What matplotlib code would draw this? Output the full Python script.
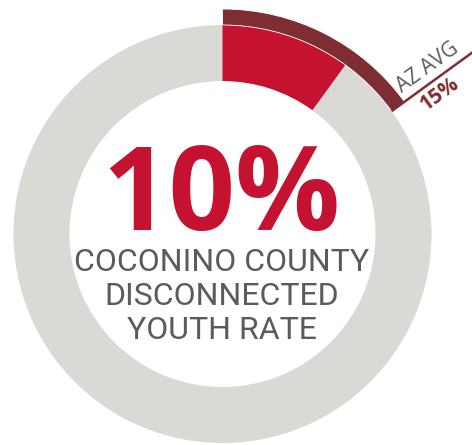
import numpy as np
import matplotlib
matplotlib.use("Agg")
import matplotlib.pyplot as plt
from matplotlib.patches import Wedge

# Data
county_label = "COCONINO COUNTY\nDISCONNECTED\nYOUTH RATE"
county_rate = 10   # percent
state_label = "AZ AVG"
state_rate = 15    # percent
full_scale = 100

RED = "#c41230"
DARK_RED = "#7e2e32"
GRAY_RING = "#d9d9d5"
TEXT_GRAY = "#5a5b5e"

W, H = 472, 445
fig = plt.figure(figsize=(W / 100, H / 100), dpi=100)
ax = fig.add_axes([0, 0, 1, 1])
ax.set_xlim(0, W)
ax.set_ylim(0, H)
ax.set_aspect("equal")
ax.axis("off")

cx, cy = 222.5, 211
r_out, r_in = 209, 153
band = 16


def sweep(value):
    return 360.0 * value / full_scale


# background ring
ax.add_patch(Wedge((cx, cy), r_out, 0, 360, width=r_out - r_in,
                   facecolor=GRAY_RING, edgecolor="none"))

# county share, clockwise from 12 o'clock
a_c = sweep(county_rate)
ax.add_patch(Wedge((cx, cy), r_out, 90 - a_c, 90, width=r_out - r_in,
                   facecolor=RED, edgecolor="none"))

# state average arc outside the ring
a_s = sweep(state_rate)
ax.add_patch(Wedge((cx, cy), r_out + band, 90 - a_s, 90, width=band,
                   facecolor=DARK_RED, edgecolor="white", linewidth=0.6))

# leader line along the end of the state arc
phi = np.deg2rad(a_s)
d = np.array([np.sin(phi), np.cos(phi)])      # outward direction
n = np.array([-np.cos(phi), np.sin(phi)])     # normal, above the line
c = np.array([cx, cy])
p0 = c + r_out * d
p1 = c + 320 * d
ax.plot([p0[0], p1[0]], [p0[1], p1[1]], color=DARK_RED, lw=1.8,
        solid_capstyle="butt")

rot = 90 - a_s
pa = c + 264 * d + 14 * n
pb = c + 258 * d - 14 * n
ax.text(pa[0], pa[1], state_label, rotation=rot, ha="center", va="center",
        rotation_mode="anchor", fontsize=15, color=TEXT_GRAY,
        family="Open Sans")
ax.text(pb[0], pb[1], f"{state_rate}%", rotation=rot, ha="center",
        va="center", rotation_mode="anchor", fontsize=15, color=DARK_RED,
        family="Open Sans", fontweight="bold")

# centre labels
ax.text(221, 215, f"{county_rate}%", ha="center", va="baseline",
        fontsize=84, color=RED, family="Open Sans", fontweight="bold")
for i, line in enumerate(county_label.split("\n")):
    ax.text(222, 174 - 34 * i, line, ha="center", va="baseline",
            fontsize=23, color=TEXT_GRAY, family="Roboto")

fig.savefig("out.png", dpi=100, facecolor="white")
